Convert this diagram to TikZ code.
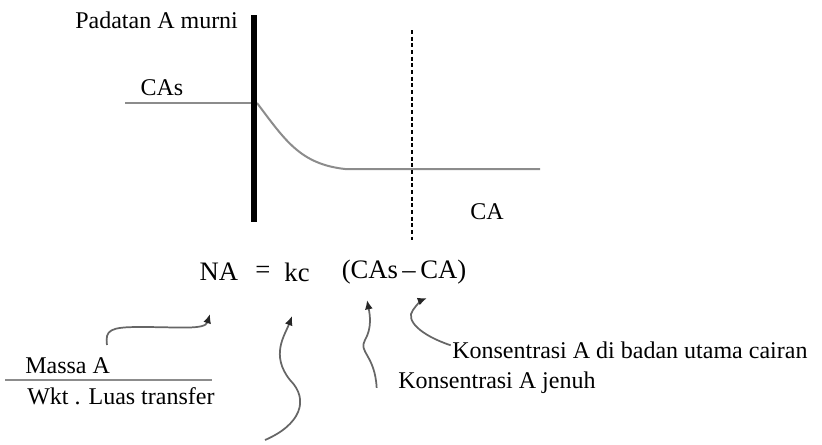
\documentclass[tikz,border=0pt]{standalone}
\usepackage{fontspec}
\setmainfont{Liberation Serif}
\usetikzlibrary{arrows.meta,positioning}
\tikzset{lbl/.style={inner sep=0pt,font=\fontsize{18}{20}\selectfont},
  eqn/.style={inner sep=0pt,font=\fontsize{20}{22}\selectfont},
  pointer/.style={->,line width=1.3pt,draw=black!60},
  profile/.style={line width=1.5pt,draw=black!45}}

\begin{document}
\begin{tikzpicture}[x=0.75pt,y=-0.75pt,>={Latex[length=7pt,width=6pt,black!85]}]
  \useasboundingbox (0,0) rectangle (822,444);
  % wall and concentration profile
  \node[lbl,anchor=west] (pad) at (75,20) {Padatan A murni};
  \node[lbl] (cas) at (162,88) {CAs};
  \node[lbl] (ca) at (487,212) {CA};
  \draw[profile] (125,103) -- (254,103);
  \draw[profile] (257,103) .. controls (285,140) and (300,164) .. (345,169) -- (540,169);
  \draw[line width=4.5pt] (254,15) -- (254,222);
  \draw[line width=0.8pt,dash pattern=on 3pt off 2pt] (412,30) -- (412,240);
  % equation
  \node[eqn] (na) at (219,272) {NA};
  \node[eqn] (eq) at (263,272) {=};
  \node[eqn] (kc) at (297,272) {kc};
  \node[eqn] (diff) at (404,272) {(CAs\,--\,CA)};
  \coordinate (tNA) at (210,314);
  \coordinate (tkc) at (292,316);
  \coordinate (tCAs) at (367,300);
  \coordinate (tCA) at (427,298);
  \coordinate (kcfoot) at (265,440);
  % explanations
  \node[lbl,anchor=west] (massa) at (25,366) {Massa A};
  \node[lbl,anchor=west] (wkt) at (27,396) {Wkt . Luas transfer};
  \draw[profile,line width=1.2pt] (5,380) -- (212,380);
  \node[lbl,anchor=west] (kbulk) at (452,350) {Konsentrasi A di badan utama cairan};
  \node[lbl,anchor=west] (ksat) at (398,383) {Konsentrasi A jenuh};
  \draw[pointer] (107,345) .. controls (105,330) and (110,327) .. (140,327)
    .. controls (180,327) and (205,330) .. (tNA);
  \draw[pointer] (kcfoot) .. controls (300,425) and (310,400) .. (290,380)
    .. controls (270,355) and (285,335) .. (tkc);
  \draw[pointer] ([shift={(-16pt,-12pt)}]ksat.north west) .. controls (375,355) and (358,352) .. (365,340)
    .. controls (372,328) and (370,315) .. (tCAs);
  \draw[pointer] ([shift={(-1pt,-3pt)}]kbulk.north west) .. controls (420,335) and (405,320) .. (413,310)
    .. controls (417,304) and (422,300) .. (tCA);
\end{tikzpicture}
\end{document}
